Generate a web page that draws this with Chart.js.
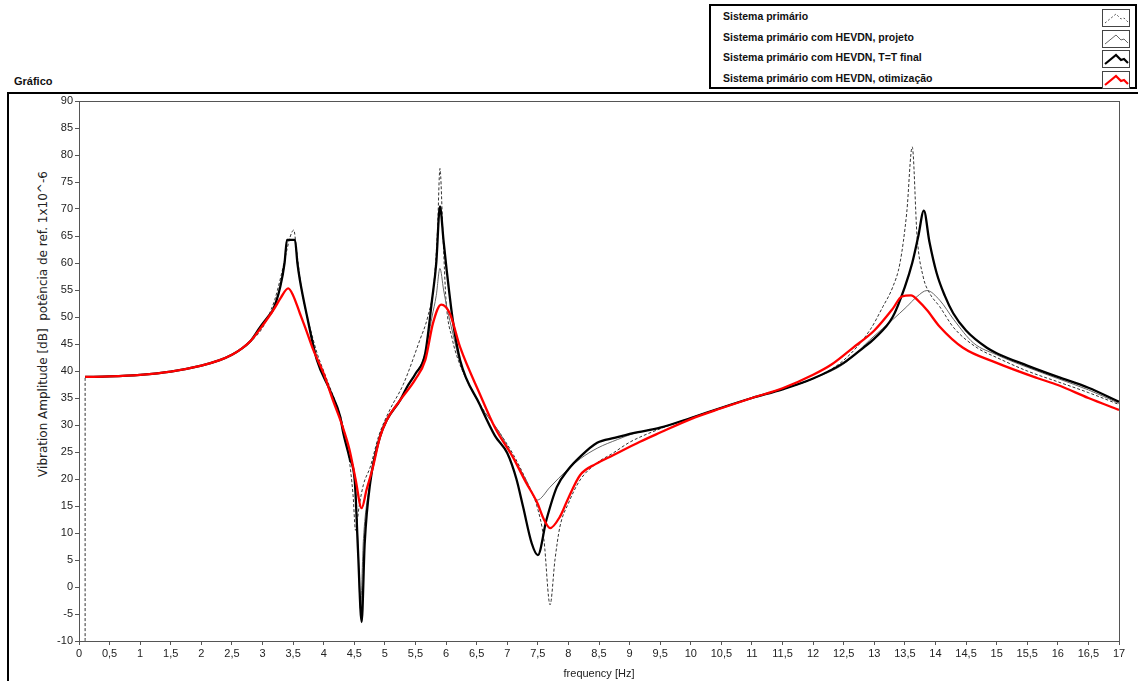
<!DOCTYPE html>
<html>
<head>
<meta charset="utf-8">
<script src="https://cdn.jsdelivr.net/npm/chart.js@4.4.0/dist/chart.umd.min.js"></script>
<style>
  body { margin: 0; background: #fff; width: 1138px; height: 681px; overflow: hidden; position: relative; font-family: "Liberation Sans", Arial, sans-serif; }
  #frame { position: absolute; left: 7px; top: 92px; width: 1140px; height: 600px; border-left: 2px solid #000; border-top: 2px solid #000; }
  #titulo { position: absolute; left: 14px; top: 75px; font-size: 11px; font-weight: bold; color: #111; }
  #legenda { position: absolute; left: 709px; top: 4px; width: 424px; height: 81px; border: 2px solid #000; background: #fff; }
  .item { position: absolute; left: 12px; font-size: 10.5px; font-weight: bold; color: #111; }
  .icone { position: absolute; left: 391px; width: 26px; height: 16px; border: 1px solid #444; background: #fff; }
  #ytitle { position: absolute; left: 43px; top: 324px; transform: translate(-50%, -50%) rotate(-90deg); white-space: pre; font-family: "DejaVu Sans", sans-serif; font-size: 12px; color: #222; }
  canvas { position: absolute; left: 0; top: 0; }
</style>
</head>
<body>
<div id="frame"></div>
<div id="titulo">Gráfico</div>
<div id="ytitle">Vibration Amplitude [dB]  potência de ref. 1x10^-6</div>
<canvas id="grafico" width="1138" height="681"></canvas>
<div id="legenda"></div>
<script>
// Sistema primário (tracejado)
const freqPrimario = [0.1,0.1,0.5,1.0,1.5, 2.0,2.3,2.5,2.7,2.9, 3.0,3.1,3.2,3.3,3.4, 3.45,3.51,3.56,3.62,3.7,
  3.8,3.9,4.0,4.1,4.2, 4.3,4.4,4.48,4.52,4.58, 4.65,4.76,4.9,5.08,5.3, 5.57,5.7,5.8,5.86,5.9,
  5.95,6.0,6.1,6.2,6.4, 6.6,6.88,7.1,7.3,7.49, 7.6,7.7,7.78,7.86,8.0, 8.19,8.47,8.73,9.0,9.5,
  10,10.5,11,11.5,12, 12.5,12.93,13.14,13.3,13.42, 13.53,13.62,13.7,13.8,13.9, 14.07,14.3,14.68,15,15.5,
  16,16.5,17];
const ampPrimario = [-10,38.9,39.0,39.3,39.9, 41.0,42.0,43.0,44.5,46.5, 48.0,50.3,53.2,57.5,62.5, 64.8,66.1,62,56.5,51.5,
  47,43,40,37,34, 30.5,25,17,10.5,15, 19,22.2,28,32.8,37.5, 45.7,50,56,66,77.5,
  65,53,46,42,37, 33,28.5,24.5,20,14.8, 8.7,-3.3,5,11.1,15.5, 19.8,23,24.8,26.8,29.3,
  31.3,33.2,35,36.6,38.6, 42,47.6,51.9,55.5,60, 69.3,81.5,64.8,57.4,54.5, 51.9,48,44.3,42.5,40,
  38,36,33.8];

// Sistema primário com HEVDN, projeto (cinza fino)
const freqProjeto = [0.1,0.5,1.0,1.5,2.0, 2.3,2.5,2.63,2.8,2.96, 3.1,3.17,3.29,3.36,3.4, 3.53,3.57,3.61,3.73,3.89,
  4.1,4.27,4.32,4.42,4.51, 4.56,4.6,4.65,4.76,4.92, 5.03,5.25,5.36,5.5,5.66, 5.77,5.84,5.9,5.96,6.01,
  6.11,6.23,6.55,6.88,7.1, 7.3,7.49,7.7,7.98,8.2, 8.47,8.8,9.06,9.5,10, 10.5,11,11.5,12,12.5,
  12.98,13.3,13.53,13.7,13.86, 14.07,14.3,14.62,15,15.5, 16,16.5,17];
const ampProjeto = [38.9,39.0,39.3,39.9,41.0, 42.0,43.0,43.9,45.5,48.1, 50.2,51.3,55.6,60,64.3, 64.3,60,56.9,50,42,
  36.5,31.5,28.5,24,19.3, 8,-4,9,19.3,27.8, 30.9,34.6,37,39.5,43.3, 50,54,59,55,52,
  47,41.5,33.8,28.5,24, 20,16.1,18.5,21.7,23.8, 25.7,27.3,28.4,29.5,31.3, 33.2,35,36.6,38.6,41.3,
  46.3,49.5,51.9,53.8,54.9, 53.1,49.5,45.2,43,40.7, 38.6,36.5,34];

// Sistema primário com HEVDN, T=T final (preto grosso)
const freqFinal = [0.1,0.5,1.0,1.5,2.0, 2.3,2.5,2.63,2.8,2.96, 3.1,3.17,3.29,3.36,3.4, 3.53,3.57,3.61,3.73,3.89,
  4.1,4.27,4.32,4.42,4.51, 4.56,4.62,4.67,4.76,4.92, 5.03,5.25,5.36,5.5,5.66, 5.77,5.84,5.9,5.96,6.01,
  6.11,6.23,6.55,6.8,7.0, 7.15,7.26,7.4,7.5,7.64, 7.81,8.0,8.19,8.47,8.75, 9.06,9.5,10,10.5,11,
  11.5,12,12.5,12.82,13.0, 13.3,13.5,13.62,13.72,13.81, 13.9,14.02,14.15,14.29,14.5, 14.84,15,15.5,16,16.5,
  17];
const ampFinal = [38.9,39.0,39.3,39.9,41.0, 42.0,43.0,43.9,45.5,48.1, 50.2,51.3,55.6,60,64.3, 64.3,60,56.9,50,42,
  36.5,31.5,28.5,24,19.3, 6.9,-6.5,8.1,19.3,27.8, 30.9,34.6,37,39.5,43.3, 53.1,60,70.5,64,58.7,
  49.4,42,33.8,28,24.8, 20,14.8,8.1,5.9,12.4, 18.5,21.8,24.1,26.7,27.6, 28.5,29.5,31.3,33.2,35,
  36.6,38.6,41.5,44.3,46, 50,55.6,60,65,69.7, 64,58.1,54,50.7,47.5, 44.3,43.3,41,38.9,36.9,
  34.3];

// Sistema primário com HEVDN, otimização (vermelho)
const freqOtim = [0.1,0.5,1.0,1.5,2.0, 2.3,2.5,2.63,2.8,2.96, 3.1,3.2,3.3,3.42,3.5, 3.61,3.7,3.83,4.0,4.15,
  4.3,4.42,4.52,4.62,4.7, 4.8,4.92,5.03,5.25,5.5, 5.66,5.79,5.92,6.06,6.23, 6.55,6.8,7.09,7.3,7.49,
  7.6,7.7,7.86,8.0,8.19, 8.45,8.73,9.17,9.5,10, 10.5,11,11.5,12,12.3, 12.65,13.0,13.3,13.45,13.6,
  13.72,13.86,14.07,14.45,15, 15.66,16,16.5,17];
const ampOtim = [38.9,39.0,39.3,39.9,41.0, 42.0,43.0,43.9,45.5,47.8, 50,51.7,53.6,55.3,54, 50.7,48,43.9,39.5,34.6,
  30,25.5,20,14.6,18, 22,27.8,30.9,34.6,38.5, 42,49,52.3,50.7,44.4, 35.8,29.5,24.1,19.5,15.6,
  12.5,10.9,13,16.5,20.7, 22.8,24.4,26.9,28.6,31.1, 33.1,35,36.8,39.3,41.2, 44.3,47.5,51.5,53.8,54,
  53,51.3,48.2,44.3,41.5, 38.7,37.4,35,32.8];

const nomes = ['Sistema primário', 'Sistema primário com HEVDN, projeto',
  'Sistema primário com HEVDN, T=T final', 'Sistema primário com HEVDN, otimização'];

const pares = (fx, fy) => fx.map((f, i) => ({ x: f, y: fy[i] }));

// legenda no canto superior direito
const estilos = [
  { cor: '#555', larg: 1, dash: '2,2' },
  { cor: '#666', larg: 1, dash: '' },
  { cor: '#000', larg: 2.2, dash: '' },
  { cor: '#ff0000', larg: 2.2, dash: '' },
];
const leg = document.getElementById('legenda');
nomes.forEach((n, i) => {
  const top = 4 + i * 20.5;
  const t = document.createElement('div');
  t.className = 'item';
  t.style.top = top + 'px';
  t.textContent = n;
  leg.appendChild(t);
  const ic = document.createElement('div');
  ic.className = 'icone';
  ic.style.top = (top - 1) + 'px';
  const e = estilos[i];
  ic.innerHTML = '<svg width="26" height="16"><polyline points="2,13 13,4 18,9 21,8 25,12" fill="none" stroke="' +
    e.cor + '" stroke-width="' + e.larg + '" stroke-dasharray="' + e.dash + '"/></svg>';
  leg.appendChild(ic);
});

const moldura = {
  id: 'moldura',
  afterDraw(chart) {
    const { ctx, chartArea: a } = chart;
    ctx.save();
    ctx.strokeStyle = '#555';
    ctx.lineWidth = 1;
    ctx.strokeRect(a.left + 0.5, a.top + 0.5, a.right - a.left, a.bottom - a.top);
    ctx.restore();
  }
};

new Chart(document.getElementById('grafico'), {
  type: 'line',
  data: {
    datasets: [
      { label: nomes[0], data: pares(freqPrimario, ampPrimario), borderColor: '#333', borderWidth: 1, borderDash: [3, 2], order: 4 },
      { label: nomes[1], data: pares(freqProjeto, ampProjeto), borderColor: '#666', borderWidth: 1, order: 3 },
      { label: nomes[2], data: pares(freqFinal, ampFinal), borderColor: '#000', borderWidth: 2.3, order: 2 },
      { label: nomes[3], data: pares(freqOtim, ampOtim), borderColor: '#ff0000', borderWidth: 2.3, order: 1 },
    ]
  },
  options: {
    responsive: false,
    animation: false,
    elements: { point: { radius: 0 }, line: { cubicInterpolationMode: 'monotone', fill: false } },
    layout: { padding: { top: 101, right: 19, left: 0, bottom: 0 } },
    plugins: {
      legend: { display: false },
      tooltip: { enabled: false },
    },
    scales: {
      x: {
        type: 'linear', min: 0, max: 17,
        afterFit: s => { s.height = 40; },
        ticks: {
          stepSize: 0.5, autoSkip: false, maxRotation: 0, color: '#222', padding: 2,
          font: { family: 'Liberation Sans', size: 11 },
          callback: v => String(v).replace('.', ','),
        },
        grid: { drawOnChartArea: false, tickLength: 4, color: '#555' },
        border: { color: '#555' },
        title: { display: true, text: 'frequency [Hz]', color: '#222', padding: { top: 3, bottom: 0 },
          font: { family: 'Liberation Sans', size: 11 } },
      },
      y: {
        min: -10, max: 90,
        afterFit: s => { s.width = 79; },
        ticks: { stepSize: 5, color: '#222', padding: 2, font: { family: 'Liberation Sans', size: 11 } },
        grid: { drawOnChartArea: false, tickLength: 4, color: '#555' },
        border: { color: '#555' },
      },
    },
  },
  plugins: [moldura],
});
</script>
</body>
</html>
